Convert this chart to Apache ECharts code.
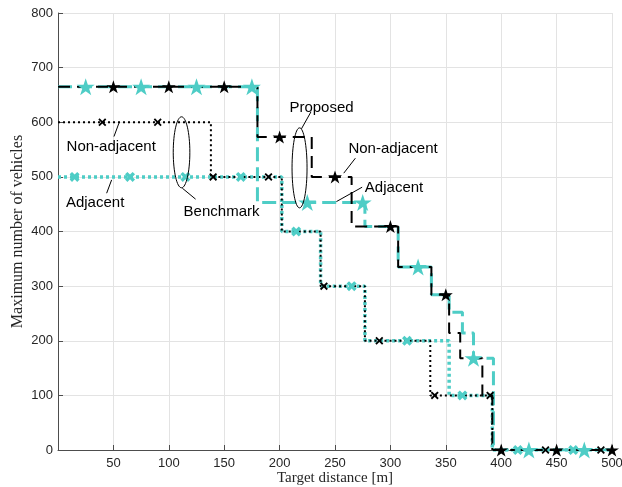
<!DOCTYPE html>
<html>
<head>
<meta charset="utf-8">
<script src="https://cdn.jsdelivr.net/npm/echarts@6/dist/echarts.min.js"></script>
<style>
  html, body { margin: 0; padding: 0; background: #ffffff; }
  #chart { width: 622px; height: 487px; }
</style>
</head>
<body>
<div id="chart"></div>
<script>
// Step curves: each level starts at the given distance and holds until the next one.
const proposedNonAdjX = [0, 180, 229, 265, 307, 337, 353, 363, 383, 392, 500];
const proposedNonAdjY = [665, 573, 500, 409, 335, 284, 214, 168, 100, 0, 0];
const proposedAdjX = [0, 180, 277, 307, 337, 353, 365, 375, 393, 500];
const proposedAdjY = [665, 453, 409, 335, 284, 252, 214, 168, 0, 0];
const benchNonAdjX = [0, 138, 202, 237, 277, 336, 392, 500];
const benchNonAdjY = [600, 500, 400, 300, 200, 100, 0, 0];
const benchAdjX = [0, 202, 237, 277, 353, 392, 500];
const benchAdjY = [500, 400, 300, 200, 100, 0, 0];

// Marker positions along each curve
const propNonAdjMarkX = [50, 100, 150, 200, 250, 300, 350, 400, 450, 500];
const propNonAdjMarkY = [665, 665, 665, 573, 500, 409, 284, 0, 0, 0];
const propAdjMarkX = [25, 75, 125, 175, 225, 275, 325, 375, 425, 475];
const propAdjMarkY = [665, 665, 665, 665, 453, 453, 335, 168, 0, 0];
const benchNonAdjMarkX = [40, 90, 140, 190, 240, 290, 340, 390, 440, 490];
const benchNonAdjMarkY = [600, 600, 500, 500, 300, 200, 100, 100, 0, 0];
const benchAdjMarkX = [15, 65, 115, 165, 215, 265, 315, 365, 415, 465];
const benchAdjMarkY = [500, 500, 500, 500, 400, 300, 200, 100, 0, 0];

// Axis ticks
const xTicks = { min: 0, max: 500, step: 50 };
const yTicks = { min: 0, max: 800, step: 100 };

const CYAN = '#4ECDC6';
const BLACK = '#000000';
const STAR = 'path://M50,0 L61.23,34.55 L97.55,34.55 L68.16,55.9 L79.39,90.45 L50,69.1 L20.61,90.45 L31.84,55.9 L2.45,34.55 L38.77,34.55 Z';
const CROSS_THIN = 'path://M0,1.6 L1.6,0 L5,3.4 L8.4,0 L10,1.6 L6.6,5 L10,8.4 L8.4,10 L5,6.6 L1.6,10 L0,8.4 L3.4,5 Z';
const CROSS_BOLD = 'path://M0,2.4 L2.4,0 L5,2.6 L7.6,0 L10,2.4 L7.4,5 L10,7.6 L7.6,10 L5,7.4 L2.4,10 L0,7.6 L2.6,5 Z';

const zip = (xs, ys) => xs.map((x, i) => [x, ys[i]]);

function stepSeries(name, xs, ys, color, width, dash, z) {
  return {
    name, type: 'line', step: 'end', data: zip(xs, ys),
    showSymbol: false, silent: true, z,
    lineStyle: { color, width, type: dash, cap: 'butt' }
  };
}
function markerSeries(name, xs, ys, color, symbol, size, z) {
  return {
    name, type: 'scatter', data: zip(xs, ys), symbol, symbolSize: size,
    silent: true, z, itemStyle: { color, opacity: 1 }
  };
}

const chart = echarts.init(document.getElementById('chart'), null, { renderer: 'canvas' });

chart.setOption({
  animation: false,
  backgroundColor: '#ffffff',
  grid: { left: 58, right: 10, top: 13, bottom: 37, containLabel: false, outerBoundsMode: 'none' },
  xAxis: {
    type: 'value', min: xTicks.min, max: xTicks.max, interval: xTicks.step,
    name: 'Target distance [m]', nameLocation: 'middle', nameGap: 21, nameMoveOverlap: false,
    nameTextStyle: { fontFamily: 'Liberation Serif', fontSize: 15, color: '#262626' },
    axisLine: { show: true, onZero: false, lineStyle: { color: '#4d4d4d', width: 1 } },
    axisTick: { show: true, inside: true, length: 5, lineStyle: { color: '#4d4d4d' } },
    axisLabel: { fontFamily: 'Liberation Sans', fontSize: 13, color: '#262626', margin: 7,
      formatter: v => (v === 0 ? '' : String(v)) },
    splitLine: { show: true, lineStyle: { color: '#e3e3e3', width: 1 } }
  },
  yAxis: {
    type: 'value', min: yTicks.min, max: yTicks.max, interval: yTicks.step,
    name: 'Maximum number of vehicles', nameLocation: 'middle', nameGap: 32, nameMoveOverlap: false,
    nameTextStyle: { fontFamily: 'Liberation Serif', fontSize: 16, color: '#262626' },
    axisLine: { show: true, onZero: false, lineStyle: { color: '#4d4d4d', width: 1 } },
    axisTick: { show: true, inside: true, length: 5, lineStyle: { color: '#4d4d4d' } },
    axisLabel: { fontFamily: 'Liberation Sans', fontSize: 13, color: '#262626', margin: 5 },
    splitLine: { show: true, lineStyle: { color: '#e3e3e3', width: 1 } }
  },
  series: [
    stepSeries('Benchmark adjacent', benchAdjX, benchAdjY, CYAN, 3.5, [3, 3], 2),
    stepSeries('Benchmark non-adjacent', benchNonAdjX, benchNonAdjY, BLACK, 2, [2, 3], 3),
    stepSeries('Proposed adjacent', proposedAdjX, proposedAdjY, CYAN, 3, [14, 6], 4),
    stepSeries('Proposed non-adjacent', proposedNonAdjX, proposedNonAdjY, BLACK, 2, [12, 7], 5),
    markerSeries('Benchmark adjacent markers', benchAdjMarkX, benchAdjMarkY, CYAN, CROSS_BOLD, 10, 6),
    markerSeries('Benchmark non-adjacent markers', benchNonAdjMarkX, benchNonAdjMarkY, BLACK, CROSS_THIN, 8, 7),
    markerSeries('Proposed adjacent markers', propAdjMarkX, propAdjMarkY, CYAN, STAR, [18, 17], 8),
    markerSeries('Proposed non-adjacent markers', propNonAdjMarkX, propNonAdjMarkY, BLACK, STAR, [14, 13], 9)
  ]
});

// Annotations placed in data coordinates
const toPx = p => chart.convertToPixel({ gridIndex: 0 }, p);
const FONT = '15px "Liberation Sans", Arial, sans-serif';

const ellipses = [
  { at: [111.5, 545], rx: 8.3, ry: 35.5 },   // Benchmark group
  { at: [218, 516.5], rx: 7.5, ry: 40 }      // Proposed group
];
const leaders = [
  { from: [112.2, 479.3], to: [124.2, 459.2] },
  { from: [50.5, 573.8], to: [55, 598.4] },
  { from: [43.9, 470.1], to: [48.4, 494.5] },
  { from: [219.7, 587.9], to: [228.3, 619] },
  { from: [257.9, 506.8], to: [268.4, 534.2] },
  { from: [251.3, 454.8], to: [274.5, 481.1] }
];
const labels = [
  { text: 'Benchmark', at: [147.6, 436.4] },
  { text: 'Non-adjacent', at: [48, 555.5] },
  { text: 'Adjacent', at: [33.5, 452.4] },
  { text: 'Proposed', at: [237.8, 626.4] },
  { text: 'Non-adjacent', at: [302.4, 550.7] },
  { text: 'Adjacent', at: [303.3, 480.4] }
];

const graphic = [];
ellipses.forEach(e => {
  const c = toPx(e.at);
  graphic.push({ type: 'ellipse', z: 100, silent: true,
    shape: { cx: c[0], cy: c[1], rx: e.rx, ry: e.ry },
    style: { fill: 'none', stroke: '#000', lineWidth: 1 } });
});
leaders.forEach(l => {
  const a = toPx(l.from), b = toPx(l.to);
  graphic.push({ type: 'line', z: 100, silent: true,
    shape: { x1: a[0], y1: a[1], x2: b[0], y2: b[1] },
    style: { stroke: '#000', lineWidth: 1 } });
});
labels.forEach(t => {
  const p = toPx(t.at);
  graphic.push({ type: 'text', z: 101, silent: true, x: p[0], y: p[1],
    style: { text: t.text, font: FONT, fill: '#000', align: 'center', verticalAlign: 'middle' } });
});
chart.setOption({ graphic });
</script>
</body>
</html>
